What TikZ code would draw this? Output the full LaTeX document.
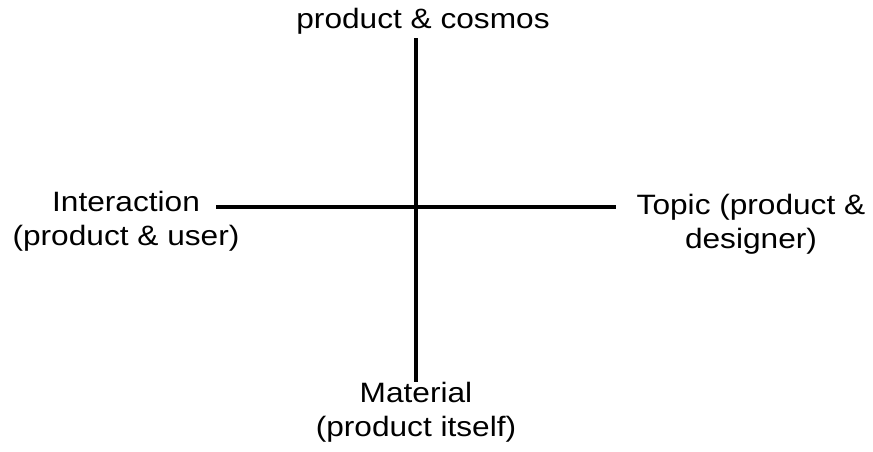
\documentclass[tikz,border=0pt]{standalone}
\usepackage{fontspec}
\setmainfont[FakeStretch=1.13]{Liberation Sans}
\begin{document}
\begin{tikzpicture}[x=1pt,y=-1pt,
  lbl/.style={inner sep=0pt,align=center,font=\fontsize{28}{34}\selectfont},
  axis/.style={line width=4pt,black}]
\useasboundingbox (0,0) rectangle (873,451);
\coordinate (vtop) at (415.5,38);
\coordinate (vbot) at (415.5,382);
\coordinate (hleft) at (216,207);
\coordinate (hright) at (616,207);
\draw[axis] (vtop) -- (vbot);
\draw[axis] (hleft) -- (hright);
\node[lbl,anchor=base] (top) at (423,28) {product \& cosmos};
\node[lbl] (left) at (126,221.6) {Interaction\\(product \& user)};
\node[lbl] (right) at (751,224) {Topic (product \&\\designer)};
\node[lbl] (bottom) at (416,411.9) {Material\\(product itself)};
\end{tikzpicture}
\end{document}
